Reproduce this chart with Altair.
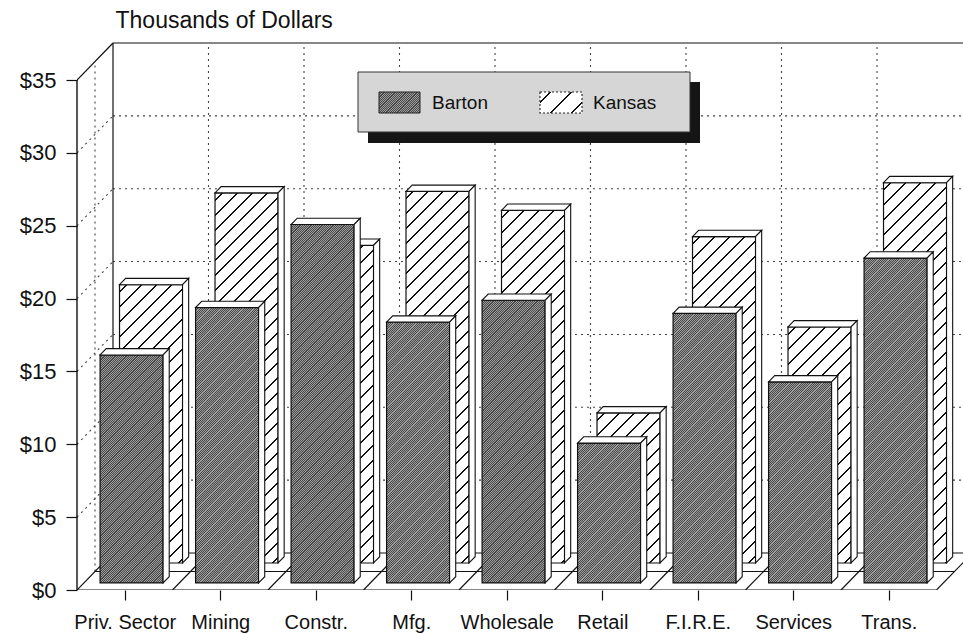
import json
import altair as alt

# ---------------- data ----------------
categories = ["Priv. Sector", "Mining", "Constr.", "Mfg.", "Wholesale",
              "Retail", "F.I.R.E.", "Services", "Trans."]
barton = [15.65, 18.9, 24.6, 17.9, 19.4, 9.6, 18.5, 13.8, 22.3]
kansas = [19.1, 25.4, 21.8, 25.5, 24.2, 10.3, 22.4, 16.2, 26.1]
series = ["Barton", "Kansas"]
y_ticks = [0, 5, 10, 15, 20, 25, 30, 35]

# ---------------- geometry of the pseudo-3D box ----------------
PLOT_W, PLOT_H = 886, 560
PAD = {"left": 77, "top": 30, "right": 0, "bottom": 44}
SLOT_PX = 95.5                  # one category slot, in pixels
DOLLAR_PX = 510 / 35            # pixels per thousand dollars
X_MAX = PLOT_W / SLOT_PX
Y_MAX = PLOT_H / DOLLAR_PX
DEPTH_X = 36 / SLOT_PX          # full floor depth, horizontal part
DEPTH_Y = 37 / DOLLAR_PX        # full floor depth, vertical part
BAR_W = 0.66                    # bar width as a share of a slot
THICK = 0.17                    # bar thickness as a share of the depth
ROW = {"Barton": 0.19, "Kansas": 0.73}
N = len(categories)
Y_TOP = y_ticks[-1]

FONT = "Liberation Sans"
INK = "#111111"


def stripes(w, h, period, width, ink, paper):
    """Diagonal '/' stripes as a bounding-box linear gradient."""
    span = w + h
    k = span / (w * w + h * h)
    stops = [{"offset": 0, "color": paper}]
    c = period / 2
    while c < span:
        a = round(max(0.0, (c - width / 2) / span), 5)
        b = round(min(1.0, (c + width / 2) / span), 5)
        stops += [{"offset": a, "color": paper}, {"offset": a, "color": ink},
                  {"offset": b, "color": ink}, {"offset": b, "color": paper}]
        c += period
    stops.append({"offset": 1, "color": paper})
    return {"gradient": "linear", "x1": 0, "y1": 0,
            "x2": round(k * w, 5), "y2": round(k * h, 5), "stops": stops}


def hatch(w, h):
    return stripes(w, h, 15.0, 1.9, INK, "#ffffff")


def stipple(w, h):
    return stripes(w, h, 2.2, 1.1, "#4a4a4a", "#9c9c9c")


xs = alt.Scale(domain=[0, X_MAX], nice=False, zero=False)
ys = alt.Scale(domain=[0, Y_MAX], nice=False, zero=False)

label_array = "[" + ",".join(json.dumps(c) for c in categories) + "]"
x_axis = alt.Axis(
    values=[i + 0.5 for i in range(N)],
    labelExpr=f"{label_array}[round(datum.value - 0.5)]",
    domain=False, grid=False, ticks=True, tickSize=10, tickColor=INK,
    tickWidth=1.2, labelFont=FONT, labelFontSize=20, labelColor=INK,
    labelPadding=12, labelAngle=0, labelFlush=False, labelOverlap=False,
    title=None)
y_axis = alt.Axis(
    values=y_ticks, labelExpr="'$' + datum.value",
    domain=False, grid=False, tickSize=11, tickColor=INK, tickWidth=1.2,
    labelFont=FONT, labelFontSize=22, labelColor=INK, labelPadding=10,
    labelFlush=False, labelOverlap=False,
    title="Thousands of Dollars", titleAngle=0, titleX=38, titleY=-3,
    titleAlign="left", titleBaseline="alphabetic", titleFont=FONT,
    titleFontSize=23, titleFontWeight="normal", titleColor=INK)


def X(f="x"):
    return alt.X(f"{f}:Q", scale=xs, axis=x_axis)


def Y(f="y"):
    return alt.Y(f"{f}:Q", scale=ys, axis=y_axis)


def segments(rows, **mark):
    return alt.Chart(alt.Data(values=rows)).mark_rule(**mark).encode(
        x=X(), y=Y(), x2="x2:Q", y2="y2:Q")


# ---------------- walls and floor ----------------
dotted, solid = [], []
for v in y_ticks[1:-1]:
    # back wall horizontals and left wall diagonals
    dotted.append(dict(x=DEPTH_X, y=v + DEPTH_Y, x2=N + DEPTH_X, y2=v + DEPTH_Y))
    dotted.append(dict(x=0, y=v, x2=DEPTH_X, y2=v + DEPTH_Y))
for k in range(1, N):
    dotted.append(dict(x=k + DEPTH_X, y=DEPTH_Y, x2=k + DEPTH_X, y2=Y_TOP + DEPTH_Y))
dotted.append(dict(x=0.5 * DEPTH_X, y=0.5 * DEPTH_Y,
                   x2=0.5 * DEPTH_X, y2=Y_TOP + 0.5 * DEPTH_Y))

solid += [
    dict(x=DEPTH_X, y=DEPTH_Y, x2=DEPTH_X, y2=Y_TOP + DEPTH_Y),
    dict(x=DEPTH_X, y=Y_TOP + DEPTH_Y, x2=N + DEPTH_X, y2=Y_TOP + DEPTH_Y),
    dict(x=0, y=Y_TOP, x2=DEPTH_X, y2=Y_TOP + DEPTH_Y),
    dict(x=0, y=0, x2=N, y2=0),
    dict(x=0.5 * DEPTH_X, y=0.5 * DEPTH_Y, x2=N + 0.5 * DEPTH_X, y2=0.5 * DEPTH_Y),
    dict(x=DEPTH_X, y=DEPTH_Y, x2=N + DEPTH_X, y2=DEPTH_Y),
]
for k in range(N + 1):
    solid.append(dict(x=k, y=0, x2=k + DEPTH_X, y2=DEPTH_Y))

wall_dots = segments(dotted, color="#444444", strokeWidth=1.1,
                     strokeDash=[2, 4], clip=True)
wall_lines = segments(solid, color=INK, strokeWidth=1.2, clip=True)
front_axis = segments([dict(x=0, y=0, x2=0, y2=Y_TOP)], color=INK, strokeWidth=1.4)


# ---------------- bars ----------------
def bar_layers(name, values):
    d = ROW[name]
    tx, ty = THICK * DEPTH_X, THICK * DEPTH_Y
    fronts, tops, sides = [], [], []
    for i, v in enumerate(values):
        x0 = i + (1 - BAR_W) / 2 + d * DEPTH_X
        x1 = x0 + BAR_W
        y0 = d * DEPTH_Y
        y1 = y0 + v
        w_px, h_px = BAR_W * SLOT_PX, v * DOLLAR_PX
        fill = hatch(w_px, h_px) if name == "Kansas" else stipple(w_px, h_px)
        fronts.append(dict(cat=categories[i], x=x0, x2=x1, y=y0, y2=y1, fill=fill))
        face = f"{name}-{i}"
        tops += [dict(face=face, x=x0, y=y1, y2=y1),
                 dict(face=face, x=x0 + tx, y=y1, y2=y1 + ty),
                 dict(face=face, x=x1, y=y1, y2=y1 + ty),
                 dict(face=face, x=x1 + tx, y=y1 + ty, y2=y1 + ty)]
        sides += [dict(face=face, x=x1, y=y0, y2=y1),
                  dict(face=face, x=x1 + tx, y=y0 + ty, y2=y1 + ty)]
    front = alt.Chart(alt.Data(values=fronts)).mark_rect(
        stroke=INK, strokeWidth=1.2).encode(
        x=X(), x2="x2:Q", y=Y(), y2="y2:Q",
        fill=alt.Fill("fill:N", scale=None))
    top = alt.Chart(alt.Data(values=tops)).mark_area(
        fill="white", stroke=INK, strokeWidth=1.1).encode(
        x=X(), y=Y(), y2="y2:Q", detail="face:N")
    side = alt.Chart(alt.Data(values=sides)).mark_area(
        fill="white", stroke=INK, strokeWidth=1.1).encode(
        x=X(), y=Y(), y2="y2:Q", detail="face:N")
    return [front, top, side]


# ---------------- legend ----------------
one = alt.Data(values=[{}])
legend_shadow = alt.Chart(one).mark_rect(fill="#151515").encode(
    x=alt.value(291), x2=alt.value(623), y=alt.value(52), y2=alt.value(113))
legend_box = alt.Chart(one).mark_rect(
    fill="#d6d6d6", stroke="#333333", strokeWidth=1).encode(
    x=alt.value(281), x2=alt.value(613), y=alt.value(42), y2=alt.value(102))
swatch_barton = alt.Chart(one).mark_rect(stroke="#222222", strokeWidth=1).encode(
    x=alt.value(302), x2=alt.value(343), y=alt.value(62), y2=alt.value(83),
    fill=alt.value(stipple(41, 21)))
swatch_kansas = alt.Chart(one).mark_rect(
    stroke="#222222", strokeWidth=1.1, strokeDash=[2, 2]).encode(
    x=alt.value(463), x2=alt.value(505), y=alt.value(62), y2=alt.value(83),
    fill=alt.value(stripes(42, 21, 21.0, 2.0, INK, "#ffffff")))
legend_text = [
    alt.Chart(one).mark_text(text=name, font=FONT, fontSize=19, color=INK,
                             align="left", baseline="middle").encode(
        x=alt.value(px), y=alt.value(73))
    for name, px in zip(series, [355, 516])
]

layers = [wall_dots, wall_lines,
          legend_shadow, legend_box, swatch_barton, swatch_kansas, *legend_text]
layers += bar_layers("Kansas", kansas)
layers += bar_layers("Barton", barton)
layers += [front_axis]

chart = alt.layer(*layers).properties(
    width=PLOT_W, height=PLOT_H,
    autosize=alt.AutoSizeParams(type="none"),
    padding=PAD,
    background="white",
).configure_view(stroke=None)

chart.save("out.html", embed_options={"renderer": "svg", "actions": False})
